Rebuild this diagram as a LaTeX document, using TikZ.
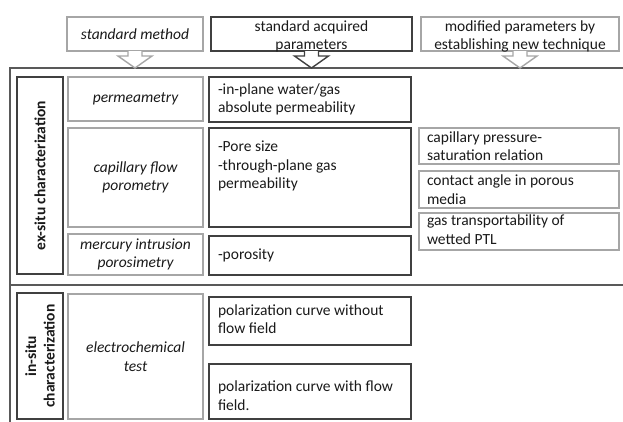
\documentclass[tikz,border=0pt]{standalone}
\usepackage{fontspec}
\setmainfont{Carlito}
\usetikzlibrary{calc,fit}
\definecolor{darkline}{HTML}{404040}
\definecolor{grayline}{HTML}{A6A6A6}
\definecolor{frameline}{HTML}{595959}
\definecolor{txt}{HTML}{1A1A1A}
\begin{document}
\begin{tikzpicture}[x=1pt,y=-1pt,
  base/.style={font=\fontsize{15.5}{18.5}\selectfont, text=txt, inner sep=0pt, outer sep=0pt},
  hdtx/.style={base, font=\fontsize{15.5}{17.5}\selectfont, align=center},
  itx/.style={base, font=\fontsize{15.5}{18.5}\selectfont\itshape, align=center},
  ltx/.style={base, align=left},
  btx/.style={base, font=\fontsize{15.5}{18.5}\selectfont\bfseries, align=center, rotate=90},
  gbox/.style={draw=grayline, line width=1.4pt, fill=white, inner sep=0pt, outer sep=0pt},
  dbox/.style={draw=darkline, line width=1.4pt, fill=white, inner sep=0pt, outer sep=0pt},
  garrow/.style={draw=grayline, line width=1.4pt, fill=white, line join=miter},
  darrow/.style={draw=darkline, line width=1.4pt, fill=white, line join=miter}]
\clip (0,0) rectangle (623,421);
\fill[white] (0,0) rectangle (623,421);

% outer frame
\draw[frameline, line width=1.4pt] (10,68) rectangle (660,460);
\draw[frameline, line width=1.4pt] (10,285) -- (660,285);

% top header boxes
\node[gbox, fit={(67,17) (203,51)}] (t1) {};
\node[dbox, fit={(211,17) (412,51)}] (t2) {};
\node[gbox, fit={(421,17) (619,51)}] (t3) {};
\node[itx] (t1x) at (t1.center) {standard method};
\node[hdtx, anchor=north] (t2x) at ($(t2.north)+(0,4)$) {standard acquired\\parameters};
\node[hdtx, anchor=north] (t3x) at ($(t3.north)+(0,4)$) {modified parameters by\\establishing new technique};

% hollow arrows from header boxes to the frame
\draw[garrow] ($(t1.south)+(-7,0)$) -- ($(t1.south)+(-7,5)$) -- ($(t1.south)+(-17,5)$) -- ($(t1.south)+(0,17)$) -- ($(t1.south)+(17,5)$) -- ($(t1.south)+(7,5)$) -- ($(t1.south)+(7,0)$);
\draw[darrow] ($(t2.south)+(-7,0)$) -- ($(t2.south)+(-7,5)$) -- ($(t2.south)+(-17,5)$) -- ($(t2.south)+(0,17)$) -- ($(t2.south)+(17,5)$) -- ($(t2.south)+(7,5)$) -- ($(t2.south)+(7,0)$);
\draw[garrow] ($(t3.south)+(-7,0)$) -- ($(t3.south)+(-7,5)$) -- ($(t3.south)+(-17,5)$) -- ($(t3.south)+(0,17)$) -- ($(t3.south)+(17,5)$) -- ($(t3.south)+(7,5)$) -- ($(t3.south)+(7,0)$);

% category labels
\node[dbox, fit={(17,77) (63,274)}] (L1) {};
\node[btx] (L1x) at (L1.center) {ex-situ characterization};
\node[dbox, fit={(17,293) (63,419)}] (L2) {};
\node[btx] (L2x) at (L2.center) {in-situ\\characterization};

% methods
\node[gbox, fit={(68,77) (203,121)}] (M1) {};
\node[itx] (M1x) at (M1.center) {permeametry};
\node[gbox, fit={(68,128) (203,227)}] (M2) {};
\node[itx] (M2x) at (M2.center) {capillary flow\\porometry};
\node[gbox, fit={(68,234) (203,275)}] (M3) {};
\node[itx] (M3x) at (M3.center) {mercury intrusion\\porosimetry};
\node[gbox, fit={(68,294) (203,419)}] (M4) {};
\node[itx] (M4x) at (M4.center) {electrochemical\\test};

% standard parameters
\node[dbox, fit={(209,77) (411,122)}] (P1) {};
\node[ltx, anchor=west] (P1x) at ($(P1.west)+(9,0)$) {-in-plane water/gas\\absolute permeability};
\node[dbox, fit={(209,128) (411,227)}] (P2) {};
\node[ltx, anchor=north west] (P2x) at (218,141) {-Pore size\\-through-plane gas\\permeability};
\node[dbox, fit={(209,236) (411,275)}] (P3) {};
\node[ltx, anchor=west] (P3x) at ($(P3.west)+(9,0)$) {-porosity};
\node[dbox, fit={(209,297) (411,345)}] (P4) {};
\node[ltx, anchor=west] (P4x) at ($(P4.west)+(9,-2)$) {polarization curve without\\flow field};
\node[dbox, fit={(209,364) (411,419)}] (P5) {};
\node[ltx, anchor=north west] (P5x) at (218,381) {polarization curve with flow\\field.};

% modified parameters
\node[gbox, fit={(419,128) (619,164)}] (R1) {};
\node[ltx, anchor=west] (R1x) at ($(R1.west)+(8,0)$) {capillary pressure-\\saturation relation};
\node[gbox, fit={(419,171) (619,208)}] (R2) {};
\node[ltx, anchor=west] (R2x) at ($(R2.west)+(8,0)$) {contact angle in porous\\media};
\node[gbox, fit={(419,213) (619,250)}] (R3) {};
\node[ltx, anchor=west] (R3x) at ($(R3.west)+(8,-2)$) {gas transportability of\\wetted PTL};
\end{tikzpicture}
\end{document}
